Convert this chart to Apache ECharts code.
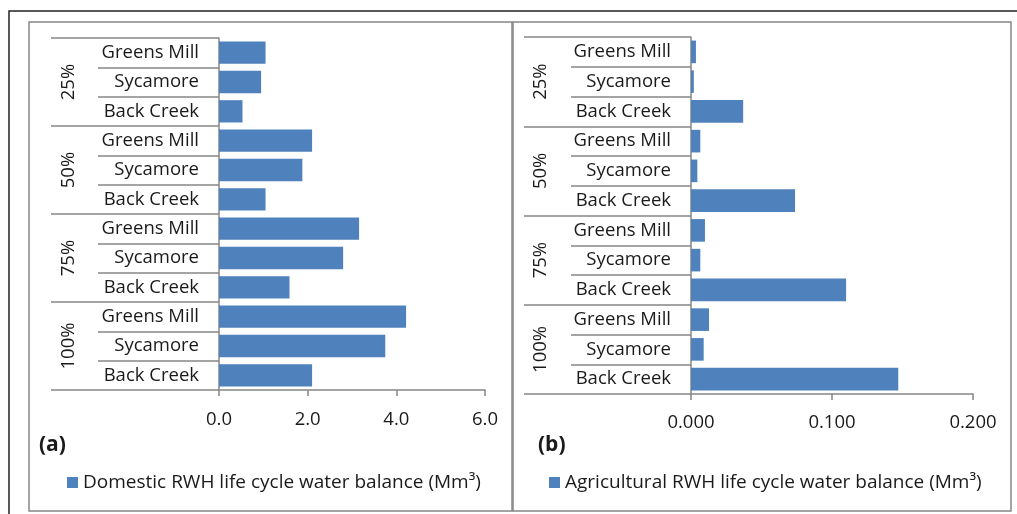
<!DOCTYPE html>
<html>
<head>
<meta charset="utf-8">
<script src="https://cdn.jsdelivr.net/npm/echarts@6/dist/echarts.min.js"></script>
<style>
  html, body { margin: 0; padding: 0; background: #fff; }
  #main { width: 1017px; height: 514px; }
</style>
</head>
<body>
<div id="main"></div>
<script>
// categories, bottom to top (as ECharts lays out a category y axis)
var groups = ['100%', '75%', '50%', '25%'];
var sites = ['Back Creek', 'Sycamore', 'Greens Mill'];
var siteCats = [];
for (var g = 0; g < groups.length; g++) {
    for (var s = 0; s < sites.length; s++) siteCats.push(sites[s]);
}

// values, same order as siteCats (100% Back Creek first)
var domesticVals = [2.10, 3.75, 4.22,  1.59, 2.80, 3.16,  1.05, 1.88, 2.10,  0.53, 0.95, 1.05];
var agriVals     = [0.147, 0.009, 0.0128,  0.110, 0.0066, 0.0099,  0.0738, 0.0045, 0.0066,  0.037, 0.002, 0.0035];

var domesticTicks = [0, 2, 6];   // min, interval, max
var agriTicks = [0, 0.1, 0.2];

var domesticName = 'Domestic RWH life cycle water balance (Mm³)';
var agriName = 'Agricultural RWH life cycle water balance (Mm³)';

var FONT = 'Open Sans';
var TXT = '#1a1a1a';
var AX = '#878787';
var BAR = '#4f81bd';

var chart = echarts.init(document.getElementById('main'));

function siteAxis(gridIndex) {
    return {
        type: 'category', gridIndex: gridIndex, position: 'left', data: siteCats,
        axisLine: { show: true, lineStyle: { color: AX, width: 1.5 } },
        axisTick: { show: true, length: gridIndex === 0 ? 121 : 120, interval: 0, lineStyle: { color: AX, width: 1.5 } },
        axisLabel: { margin: 20, fontFamily: FONT, fontSize: 18.5, color: TXT, interval: 0 }
    };
}
function groupAxis(gridIndex) {
    return {
        type: 'category', gridIndex: gridIndex, position: 'left', data: groups,
        axisLine: { show: false },
        axisTick: { show: true, length: gridIndex === 0 ? 168 : 167, interval: 0, lineStyle: { color: AX, width: 1.5 } },
        axisLabel: { rotate: 90, margin: 141, fontFamily: FONT, fontSize: 18.5, color: TXT, interval: 0 }
    };
}
function valueAxis(gridIndex, t, digits, margin) {
    return {
        type: 'value', gridIndex: gridIndex, min: t[0], interval: t[1], max: t[2],
        splitLine: { show: false },
        axisLine: { show: true, lineStyle: { color: AX, width: 1.5 } },
        axisTick: { show: true, length: 6, lineStyle: { color: AX, width: 1.5 } },
        axisLabel: { margin: margin, fontFamily: FONT, fontSize: 18.5, color: TXT,
            formatter: function (v) { return v.toFixed(digits); } }
    };
}

chart.setOption({
    animation: false,
    backgroundColor: '#fff',
    title: [
        { text: '(a)', left: 34, top: 430, textStyle: { fontFamily: FONT, fontSize: 21, fontWeight: 'bold', color: TXT } },
        { text: '(b)', left: 533, top: 430, textStyle: { fontFamily: FONT, fontSize: 21, fontWeight: 'bold', color: TXT } }
    ],
    legend: [
        { data: [domesticName], left: 62, top: 468, icon: 'rect', itemWidth: 11, itemHeight: 11, itemGap: 0,
          textStyle: { fontFamily: FONT, fontSize: 19, color: TXT } },
        { data: [agriName], left: 544, top: 468, icon: 'rect', itemWidth: 11, itemHeight: 11, itemGap: 0,
          textStyle: { fontFamily: FONT, fontSize: 19, color: TXT } }
    ],
    grid: [
        { left: 219, right: 1017 - 485, top: 38, bottom: 514 - 390 },
        { left: 691, right: 1017 - 973, top: 37, bottom: 514 - 394 }
    ],
    xAxis: [valueAxis(0, domesticTicks, 1, 20), valueAxis(1, agriTicks, 3, 19)],
    yAxis: [siteAxis(0), groupAxis(0), siteAxis(1), groupAxis(1)],
    series: [
        { name: domesticName, type: 'bar', xAxisIndex: 0, yAxisIndex: 0, data: domesticVals,
          barCategoryGap: '24%', itemStyle: { color: BAR } },
        { name: agriName, type: 'bar', xAxisIndex: 1, yAxisIndex: 2, data: agriVals,
          barCategoryGap: '24%', itemStyle: { color: BAR } }
    ],
    graphic: [
        { type: 'rect', shape: { x: 9, y: 11, width: 1030, height: 530 }, style: { fill: null, stroke: '#222', lineWidth: 1.5 }, silent: true },
        { type: 'rect', shape: { x: 29, y: 22, width: 483, height: 489 }, style: { fill: null, stroke: AX, lineWidth: 1.5 }, silent: true },
        { type: 'rect', shape: { x: 513, y: 22, width: 498, height: 489 }, style: { fill: null, stroke: AX, lineWidth: 1.5 }, silent: true }
    ]
});
</script>
</body>
</html>
